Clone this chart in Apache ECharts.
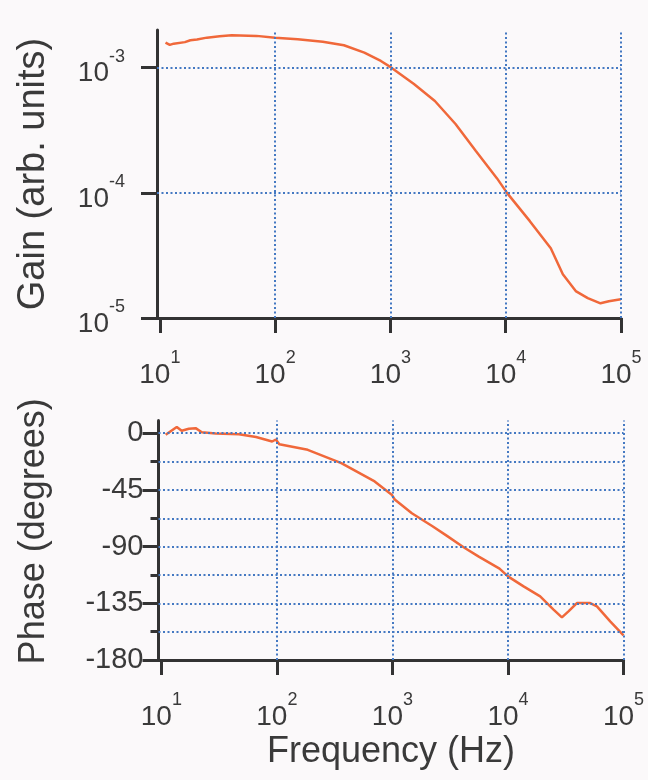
<!DOCTYPE html>
<html><head><meta charset="utf-8">
<script src="https://cdn.jsdelivr.net/npm/echarts@6/dist/echarts.min.js"></script>
<style>html,body{margin:0;padding:0;background:#fbf9fa}#c{width:648px;height:780px}</style>
</head><body><div id="c"></div>
<script>
// Gain (top panel)
const gainFreq = [11.2, 12.2, 13.2, 16.5, 18.4, 21, 25.6, 33, 42, 69, 100, 157, 259, 395, 594, 826, 1020, 1600, 2430, 3670, 5510, 8380, 10300, 16200, 24600, 31300, 40500, 51500, 66400, 78400, 99600];
const gainValues = [1.585e-3, 1.52e-3, 1.556e-3, 1.6e-3, 1.655e-3, 1.68e-3, 1.738e-3, 1.78e-3, 1.815e-3, 1.795e-3, 1.738e-3, 1.687e-3, 1.614e-3, 1.51e-3, 1.318e-3, 1.132e-3, 1.0e-3, 7.41e-4, 5.42e-4, 3.55e-4, 2.16e-4, 1.31e-4, 9.95e-5, 5.94e-5, 3.61e-5, 2.24e-5, 1.64e-5, 1.44e-5, 1.31e-5, 1.36e-5, 1.41e-5];
// Phase (bottom panel)
const phaseFreq = [10.9, 13.6, 15.0, 17.3, 19.8, 22.4, 29.5, 47, 66, 91, 98, 105, 185, 361, 702, 986, 1047, 1473, 2240, 2965, 4130, 5590, 8450, 10000, 13650, 19000, 24800, 29300, 33400, 39500, 51500, 58900, 76700, 100000];
const phaseValues = [-1.3, 5, 1.9, 3.5, 4, 0.8, -0.2, -0.8, -3, -6.6, -5, -8.7, -13.2, -23.8, -38.3, -48.8, -52.6, -63.5, -74, -81.5, -90.5, -98, -107.5, -113.6, -121.6, -129.5, -140, -146.2, -141.4, -134.8, -134.8, -137.4, -149.3, -160.4];
// ticks and grid lines
const freqTicks = [10, 100, 1000, 10000, 100000];
const gainTicks = [1e-5, 1e-4, 1e-3];
const phaseTicks = [-180, -135, -90, -45, 0];
const phaseMinorTicks = [-157.5, -112.5, -67.5, -22.5];
const freqGrid = [100, 1000, 10000, 100000];
const gainGrid = [1e-4, 1e-3];
const phaseGrid = [0, -22.5, -45, -67.5, -90, -112.5, -135, -157.5];

const AX = '#333333';
const TXT = '#3a3a3a';
const GRIDC = '#4479c2';
const LINEC = '#f0683a';
const FONT = "'Liberation Sans', Arial, sans-serif";
const FMIN = 9.45, FMAX = 100000;

const supRich = {
  b: {fontSize: 28, fontFamily: FONT, color: TXT, padding: [12, 0, 0, 0]},
  s: {fontSize: 18, fontFamily: FONT, color: TXT, verticalAlign: 'top'}
};
function powFmt(v) {
  const e = Math.round(Math.log10(v));
  return '{b|10}{s|' + e + '}';
}
function freqAxis(gi) {
  return {
    type: 'log', logBase: 10, gridIndex: gi, min: FMIN, max: FMAX,
    axisLine: {onZero: false, lineStyle: {color: AX, width: 3}},
    axisTick: {customValues: freqTicks, length: 15, lineStyle: {color: AX, width: 3}},
    axisLabel: {customValues: freqTicks, formatter: powFmt, rich: supRich, margin: 31},
    splitLine: {show: false},
    name: gi === 1 ? 'Frequency (Hz)' : '',
    nameLocation: 'middle', nameGap: 74,
    nameTextStyle: {fontSize: 36, fontFamily: FONT, color: TXT}
  };
}
function gridLineSeries(xi, yi, xs, ys) {
  const data = xs.map(v => ({xAxis: v}))
    .concat(ys.map(v => [{coord: [FMIN, v]}, {coord: [FMAX, v]}]));
  return {
    type: 'line', xAxisIndex: xi, yAxisIndex: yi, data: [], z: 1,
    markLine: {
      silent: true, symbol: ['none', 'none'], label: {show: false},
      lineStyle: {color: GRIDC, type: [2, 2.5], width: 2},
      data: data
    }
  };
}

const chart = echarts.init(document.getElementById('c'));
chart.setOption({
  animation: false,
  backgroundColor: '#fbf9fa',
  grid: [
    {left: 157, top: 30, width: 464, height: 288},
    {left: 158.5, top: 420.6, width: 465, height: 239.4}
  ],
  xAxis: [freqAxis(0), freqAxis(1)],
  yAxis: [
    {
      type: 'log', logBase: 10, gridIndex: 0, min: 1e-5, max: 2e-3,
      axisLine: {onZero: false, lineStyle: {color: AX, width: 3}},
      axisTick: {customValues: gainTicks, length: 16, lineStyle: {color: AX, width: 3}},
      axisLabel: {customValues: gainTicks, formatter: powFmt, rich: supRich, margin: 32},
      splitLine: {show: false},
      name: 'Gain (arb. units)', nameLocation: 'middle', nameRotate: 90, nameGap: 104,
      nameTextStyle: {fontSize: 38, fontFamily: FONT, color: TXT}
    },
    {
      type: 'value', gridIndex: 1, min: -180, max: 10,
      axisLine: {onZero: false, lineStyle: {color: AX, width: 3}},
      axisTick: {customValues: phaseTicks, length: 16, lineStyle: {color: AX, width: 3}},
      axisLabel: {customValues: phaseTicks, fontSize: 29, fontFamily: FONT, color: TXT, margin: 15},
      splitLine: {show: false},
      name: 'Phase (degrees)', nameLocation: 'middle', nameRotate: 90, nameGap: 106,
      nameTextStyle: {fontSize: 36, fontFamily: FONT, color: TXT, padding: [0, 0, 0, 18]}
    },
    {
      type: 'value', gridIndex: 1, min: -180, max: 10, position: 'left',
      axisLine: {show: false},
      axisTick: {customValues: phaseMinorTicks, length: 8, lineStyle: {color: AX, width: 3}},
      axisLabel: {show: false},
      splitLine: {show: false}
    }
  ],
  series: [
    gridLineSeries(0, 0, freqGrid, gainGrid),
    {
      type: 'line', xAxisIndex: 0, yAxisIndex: 0, z: 3, showSymbol: false, smooth: false,
      lineStyle: {color: LINEC, width: 2.5},
      data: gainFreq.map((f, i) => [f, gainValues[i]])
    },
    gridLineSeries(1, 1, freqGrid, phaseGrid),
    {
      type: 'line', xAxisIndex: 1, yAxisIndex: 1, z: 3, showSymbol: false, smooth: false,
      lineStyle: {color: LINEC, width: 2.5},
      data: phaseFreq.map((f, i) => [f, phaseValues[i]])
    }
  ]
});
</script></body></html>
